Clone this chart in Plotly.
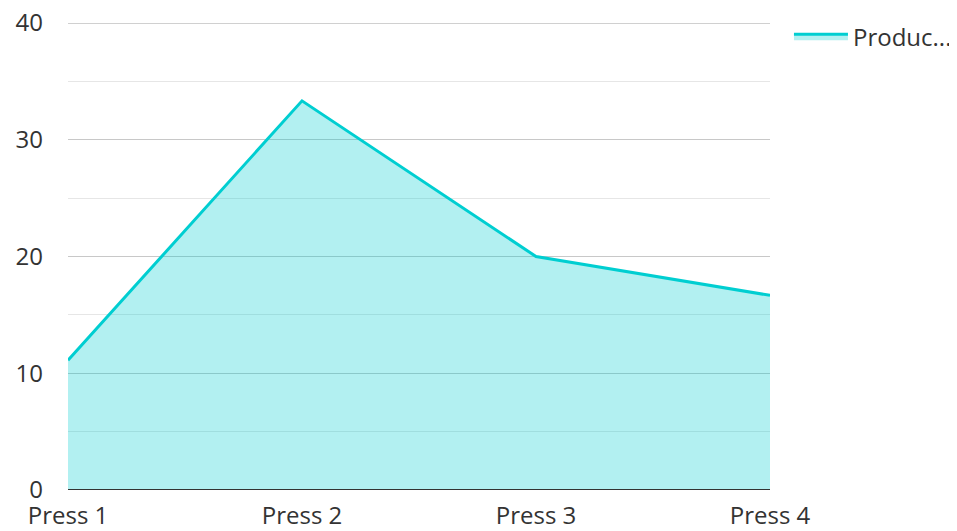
import plotly.graph_objects as go

categories = ["Press 1", "Press 2", "Press 3", "Press 4"]
values = [11.11, 33.33, 20.0, 16.67]
series_name = "Produc..."
y_ticks = [0, 10, 20, 30, 40]

fig = go.Figure()
fig.add_trace(go.Scatter(
    x=categories, y=values, name=series_name, mode="lines",
    fill="tozeroy", fillcolor="rgba(0,206,209,0.3)",
    line=dict(color="#00CED1", width=3),
))

fig.update_layout(
    width=949, height=523,
    margin=dict(l=60, r=187, t=15, b=41, autoexpand=False),
    paper_bgcolor="white", plot_bgcolor="white",
    font=dict(family="Open Sans", size=24, color="#333333"),
    showlegend=True,
    legend=dict(x=1.027, y=1.019, xanchor="left", yanchor="top",
                itemwidth=54, font=dict(size=24, color="#333333")),
    xaxis=dict(range=[0, 3], showgrid=False, ticks="", tickfont=dict(size=24),
               showline=False, zeroline=False, automargin=False,
               ticklabelstandoff=9, ticklabeloverflow="allow"),
    yaxis=dict(range=[0, 40], tickvals=y_ticks, showgrid=True,
               gridcolor="#c8c8c8", gridwidth=1, zeroline=False,
               showline=False, ticks="", ticklabelstandoff=24, automargin=False,
               tickfont=dict(size=24), ticklabeloverflow="allow",
               minor=dict(dtick=5, showgrid=True, gridcolor="#e6e6e6", gridwidth=1)),
    shapes=[
        dict(type="line", xref="paper", yref="y", x0=0, x1=1, y0=y_ticks[-1], y1=y_ticks[-1],
             line=dict(color="#c0c0c0", width=1.5), layer="below"),
        dict(type="line", xref="paper", yref="y", x0=0, x1=1, y0=0, y1=0,
             line=dict(color="#333333", width=2)),
    ],
)

fig.write_html("out.html")
